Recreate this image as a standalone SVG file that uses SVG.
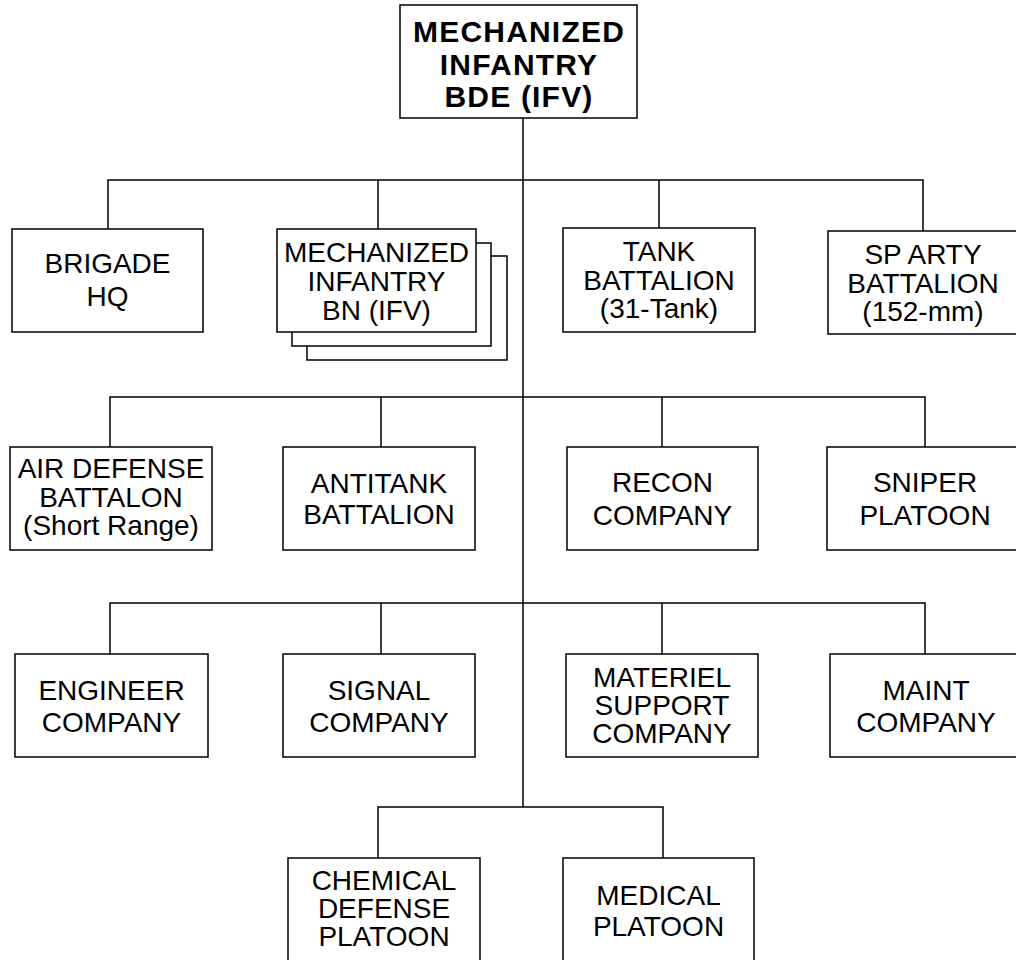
<svg xmlns="http://www.w3.org/2000/svg" width="1016" height="960" viewBox="0 0 1016 960">
<style>
.box{fill:#fff;stroke:#000;stroke-width:1.5}
.t{font-family:"Liberation Sans",Arial,sans-serif;font-size:28px;text-anchor:middle;fill:#000}
.b{font-weight:bold;font-size:30px;letter-spacing:1.2px}
.c{fill:none;stroke:#000;stroke-width:1.5}
</style>
<rect width="1016" height="960" fill="#fff"/>
<g id="connectors" class="c">
<path d="M523 118V807"/>
<path d="M108 229V180H923V231M378 180V229M659 180V228"/>
<path d="M110 447V397H925V447M381 397V447M662 397V447"/>
<path d="M110 654V603H925V654M381 603V654M662 603V654"/>
<path d="M378 858V807H663V858"/>
</g>
<g id="bde">
<rect class="box" x="400" y="5" width="237" height="113"/>
<text class="t b" x="519" y="42">MECHANIZED</text>
<text class="t b" x="519" y="75">INFANTRY</text>
<text class="t b" x="519" y="107">BDE (IFV)</text>
</g>
<g id="bde-hq">
<rect class="box" x="12" y="229" width="191" height="103"/>
<text class="t" x="107.5" y="273">BRIGADE</text>
<text class="t" x="107.5" y="306">HQ</text>
</g>
<g id="mech-inf-bn">
<rect class="box" x="307" y="256" width="200" height="104"/>
<rect class="box" x="292" y="243" width="199" height="103"/>
<rect class="box" x="277" y="229" width="199" height="103"/>
<text class="t" x="376.5" y="262">MECHANIZED</text>
<text class="t" x="376.5" y="291">INFANTRY</text>
<text class="t" x="376.5" y="320">BN (IFV)</text>
</g>
<g id="tank-bn">
<rect class="box" x="563" y="228" width="192" height="104"/>
<text class="t" x="659" y="261">TANK</text>
<text class="t" x="659" y="290">BATTALION</text>
<text class="t" x="659" y="318">(31-Tank)</text>
</g>
<g id="sp-arty-bn">
<rect class="box" x="828" y="231" width="190" height="103"/>
<text class="t" x="923" y="264">SP ARTY</text>
<text class="t" x="923" y="293">BATTALION</text>
<text class="t" x="923" y="321">(152-mm)</text>
</g>
<g id="ad-bn">
<rect class="box" x="10" y="447" width="202" height="103"/>
<text class="t" x="111" y="478">AIR DEFENSE</text>
<text class="t" x="111" y="507">BATTALON</text>
<text class="t" x="111" y="535">(Short Range)</text>
</g>
<g id="at-bn">
<rect class="box" x="283" y="447" width="192" height="103"/>
<text class="t" x="379" y="493">ANTITANK</text>
<text class="t" x="379" y="524">BATTALION</text>
</g>
<g id="recon-co">
<rect class="box" x="567" y="447" width="191" height="103"/>
<text class="t" x="662.5" y="492">RECON</text>
<text class="t" x="662.5" y="525">COMPANY</text>
</g>
<g id="sniper-plt">
<rect class="box" x="827" y="447" width="196" height="103"/>
<text class="t" x="925" y="492">SNIPER</text>
<text class="t" x="925" y="525">PLATOON</text>
</g>
<g id="engr-co">
<rect class="box" x="15" y="654" width="193" height="103"/>
<text class="t" x="111.5" y="700">ENGINEER</text>
<text class="t" x="111.5" y="732">COMPANY</text>
</g>
<g id="signal-co">
<rect class="box" x="283" y="654" width="192" height="103"/>
<text class="t" x="379" y="700">SIGNAL</text>
<text class="t" x="379" y="732">COMPANY</text>
</g>
<g id="mat-spt-co">
<rect class="box" x="566" y="654" width="192" height="103"/>
<text class="t" x="662" y="687">MATERIEL</text>
<text class="t" x="662" y="715">SUPPORT</text>
<text class="t" x="662" y="743">COMPANY</text>
</g>
<g id="maint-co">
<rect class="box" x="830" y="654" width="192" height="103"/>
<text class="t" x="926" y="700">MAINT</text>
<text class="t" x="926" y="732">COMPANY</text>
</g>
<g id="chem-plt">
<rect class="box" x="288" y="858" width="192" height="110"/>
<text class="t" x="384" y="890">CHEMICAL</text>
<text class="t" x="384" y="918">DEFENSE</text>
<text class="t" x="384" y="946">PLATOON</text>
</g>
<g id="med-plt">
<rect class="box" x="563" y="858" width="191" height="110"/>
<text class="t" x="658.5" y="905">MEDICAL</text>
<text class="t" x="658.5" y="936">PLATOON</text>
</g>
</svg>
